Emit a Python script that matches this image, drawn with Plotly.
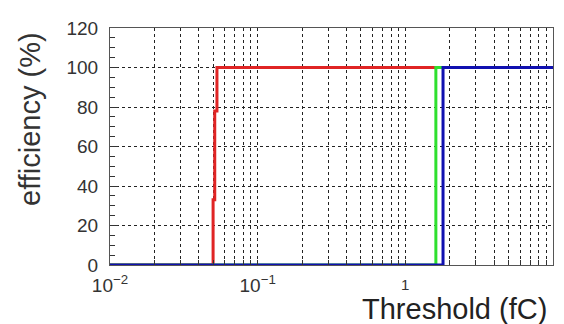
import plotly.graph_objects as go

# data
red_x = [0.01, 0.0499, 0.0512, 0.0530, 10]
red_y = [0, 33, 78, 100, 100]
green_x = [0.01, 1.61, 10]
green_y = [0, 100, 100]
blue_x = [0.01, 1.80, 10]
blue_y = [0, 100, 100]

decades = [0.01, 0.1, 1]
decade_labels = ["10<sup>−2</sup>", "10<sup>−1</sup>", ""]
y_ticks = [0, 20, 40, 60, 80, 100, 120]

tickvals = []
ticktext = []
for i, d in enumerate(decades):
    for m in range(1, 10):
        tickvals.append(d * m)
        ticktext.append(decade_labels[i] if m == 1 else "")
tickvals.append(10)
ticktext.append("")

fig = go.Figure()
fig.add_trace(go.Scatter(x=red_x, y=red_y, mode="lines", line=dict(color="#e02424", width=3, shape="hv")))
fig.add_trace(go.Scatter(x=green_x, y=green_y, mode="lines", line=dict(color="#2ee02e", width=3, shape="hv")))
fig.add_trace(go.Scatter(x=blue_x, y=blue_y, mode="lines", line=dict(color="#1010b0", width=3, shape="hv")))

# the page body has an 8px margin, so the figure is 8px smaller than the window
fig.update_layout(
    width=556, height=316,
    margin=dict(l=102, r=10, t=11, b=59),
    paper_bgcolor="white", plot_bgcolor="white",
    showlegend=False,
    font=dict(family="Liberation Sans, Arial, sans-serif", color="#333", size=19),
)
fig.update_xaxes(
    type="log", range=[-2, 1],
    tickvals=tickvals, ticktext=ticktext,
    showgrid=True, gridcolor="#222", griddash="dot", gridwidth=1,
    ticks="inside", ticklen=5, tickcolor="#333",
    showline=True, linecolor="#555", linewidth=1, mirror=True,
    zeroline=False, tickfont=dict(size=19), ticklabelstandoff=3,
)
fig.update_yaxes(
    range=[0, 120], tickvals=y_ticks,
    showgrid=True, gridcolor="#222", griddash="dot", gridwidth=1,
    ticks="inside", ticklen=8, tickcolor="#333",
    minor=dict(dtick=5, ticks="inside", ticklen=5, tickcolor="#333", showgrid=False),
    showline=True, linecolor="#555", linewidth=1, mirror=True,
    zeroline=False, tickfont=dict(size=19), ticklabelstandoff=7,
)
# the "1" decade label, drawn small and raised as in the reference
fig.add_annotation(text="1", xref="x", yref="paper", x=0, y=-0.083,
                   showarrow=False, font=dict(size=15, color="#333"),
                   xanchor="center", yanchor="middle")
fig.add_annotation(text="efficiency (%)", xref="paper", yref="paper", x=-0.182, y=0.618,
                   textangle=-90, showarrow=False, font=dict(size=29, color="#333"),
                   xanchor="center", yanchor="middle")
fig.add_annotation(text="Threshold (fC)", xref="paper", yref="paper", x=0.991, y=-0.187,
                   showarrow=False, font=dict(size=29, color="#222"),
                   xanchor="right", yanchor="middle")

fig.write_html("out.html")
